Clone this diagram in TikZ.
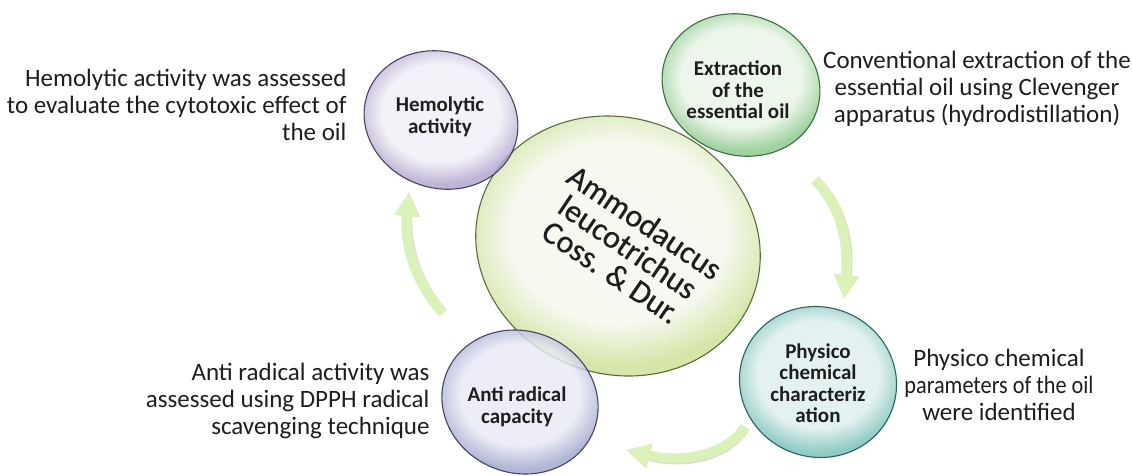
\documentclass[tikz,border=0pt]{standalone}
\usepackage{fontspec}
\usepackage{graphicx}
\setmainfont{Carlito}
\newfontfamily\centralfont[FakeBold=0.6]{Carlito}
\usetikzlibrary{arrows.meta,shapes.geometric}
\definecolor{bubpale}{RGB}{240,240,240}
\definecolor{bubrim}{RGB}{200,200,200}
\definecolor{arrowgreen}{RGB}{218,242,184}
\definecolor{txt}{RGB}{30,30,30}
\definecolor{cpale}{RGB}{244,248,236}\definecolor{crim}{RGB}{205,224,150}\definecolor{cline}{RGB}{70,95,40}
\definecolor{hpale}{RGB}{242,240,248}\definecolor{hrim}{RGB}{178,164,206}\definecolor{hline}{RGB}{60,50,80}
\definecolor{epale}{RGB}{232,245,230}\definecolor{erim}{RGB}{140,200,140}\definecolor{eline}{RGB}{40,100,50}
\definecolor{ppale}{RGB}{222,240,238}\definecolor{prim}{RGB}{120,192,184}\definecolor{pline}{RGB}{25,85,80}
\definecolor{apale}{RGB}{232,234,245}\definecolor{arim}{RGB}{160,166,204}\definecolor{aline}{RGB}{50,55,90}
\pgfdeclareradialshading[bubpale,bubrim]{bubble}{\pgfpoint{0bp}{0bp}}{color(0bp)=(bubpale); color(17bp)=(bubpale); color(25bp)=(bubrim); color(50bp)=(bubrim)}
\tikzset{
  bubble/.style n args={3}{ellipse, inner sep=0pt, rotate=-20,
    /utils/exec={\colorlet{bubpale}{#1}\colorlet{bubrim}{#2}},
    shading=bubble, draw=#3, line width=1.1pt, fill opacity=0.82, draw opacity=0.9},
  lab/.style={font=\bfseries\fontsize{21}{21.5}\selectfont, align=center, text=txt},
  desc/.style={font=\fontsize{25}{27}\selectfont, text=txt},
  cyc/.style={line width=10pt, draw=arrowgreen, -{Triangle[width=23pt,length=24pt]}},
  cycshadow/.style={line width=10pt, draw=black!15, -{Triangle[width=23pt,length=24pt]}},
}
\begin{document}
\begin{tikzpicture}[x=1pt,y=-1pt]
\useasboundingbox[fill=white] (0,0) rectangle (1132,475);

% cycle arrows
\coordinate (la1) at (443,313);
\coordinate (la2) at (409,192);
\coordinate (ra1) at (815,180);
\coordinate (ra2) at (844,299);
\coordinate (ba1) at (745,427);
\coordinate (ba2) at (626,450);
\begin{scope}[shift={(1.5,1.5)}]
\draw[cycshadow] (la1) .. controls (413,280) and (404,240) .. (la2);
\draw[cycshadow] (ra1) .. controls (840,205) and (849,240) .. (ra2);
\draw[cycshadow] (ba1) .. controls (725,457) and (680,463) .. (ba2);
\end{scope}
\draw[cyc] (la1) .. controls (413,280) and (404,240) .. (la2);
\draw[cyc] (ra1) .. controls (840,205) and (849,240) .. (ra2);
\draw[cyc] (ba1) .. controls (725,457) and (680,463) .. (ba2);

% bubbles
\node[bubble={cpale}{crim}{cline}, minimum width=288pt, minimum height=256pt] (center) at (618,246) {};
\node[bubble={hpale}{hrim}{hline}, minimum width=156pt, minimum height=136pt] (hemo) at (441,120) {};
\node[bubble={epale}{erim}{eline}, minimum width=160pt, minimum height=140pt] (extr) at (741,85) {};
\node[bubble={ppale}{prim}{pline}, minimum width=158pt, minimum height=150pt] (phys) at (818,382) {};
\node[bubble={apale}{arim}{aline}, minimum width=158pt, minimum height=142pt] (anti) at (520,402) {};

% labels
\node[font=\centralfont\fontsize{32}{30}\selectfont, align=center, text=txt, rotate=-34] (ctext) at (628,247) {Ammodaucus\\leucotrichus\\Coss. \& Dur.};
\node[lab] (hemol) at (440,117) {Hemolytic\\activity};
\node[lab] (extrl) at (738,90) {Extraction\\of the\\essential oil};
\node[lab] (physl) at (818,383) {Physico\\chemical\\characteriz\\ation};
\node[lab] (antil) at (517,407) {Anti radical\\capacity};

% descriptions
\node[desc, align=right, anchor=east] (hemod) at (350,104.5) {Hemolytic activity was assessed\\to evaluate the cytotoxic effect of\\the oil};
\node[desc, align=center] (extrd) at (977,89) {Conventional extraction of the\\essential oil using Clevenger\\apparatus (hydrodistillation)};
\node[desc, align=center] (physd) at (999,384.5) {Physico chemical\\\scalebox{0.89}[1]{parameters of the oil}\\were identified};
\node[desc, align=right, anchor=east] (antid) at (433,401) {Anti radical activity was\\assessed using DPPH radical\\scavenging technique};
\end{tikzpicture}
\end{document}
